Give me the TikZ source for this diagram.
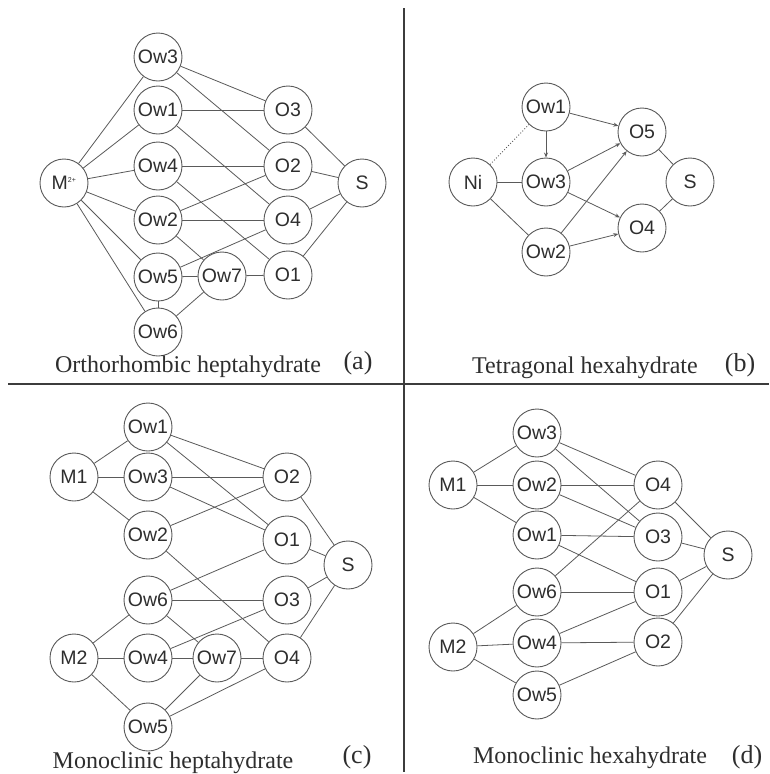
\documentclass[tikz,border=0pt]{standalone}
\usepackage{fontspec}
\setmainfont{Liberation Serif}
\setsansfont{Liberation Sans}
\usetikzlibrary{arrows.meta}
\definecolor{linegray}{HTML}{5A5A5A}
\definecolor{txtgray}{HTML}{2E2E2E}
\definecolor{divgray}{HTML}{3C3C3C}
\begin{document}
\begin{tikzpicture}[x=1pt,y=-1pt,
  nd/.style={circle,draw=linegray,line width=0.9pt,minimum size=48pt,inner sep=0pt,
    font=\sffamily\fontsize{19.5}{19.5}\selectfont,text=txtgray},
  ed/.style={draw=linegray,line width=0.8pt},
  ar/.style={ed,-{Stealth[length=5pt,width=4pt]}},
  dt/.style={draw=linegray,line width=0.9pt,dotted},
  capt/.style={font=\fontsize{24}{24}\selectfont,text=txtgray,inner sep=0pt},
  tag/.style={font=\fontsize{26}{26}\selectfont,text=txtgray,inner sep=0pt},
  divline/.style={draw=divgray,line width=1.2pt}]
\useasboundingbox (0,0) rectangle (769,774);
\fill[white] (0,0) rectangle (769,774);
% dividers
\coordinate (vtop) at (404,8);
\coordinate (vbot) at (404,772);
\coordinate (hl) at (8,384);
\coordinate (hr) at (769,384);
\draw[divline] (vtop) -- (vbot);
\draw[divline] (hl) -- (hr);

% ---------- (a) ----------
\node[nd] (aM) at (64,183) {M\textsuperscript{\fontsize{7}{7}\selectfont 2+}};
\node[nd] (aOw3) at (158,57) {Ow3};
\node[nd] (aOw1) at (158,110) {Ow1};
\node[nd] (aOw4) at (158,166) {Ow4};
\node[nd] (aOw2) at (158,220) {Ow2};
\node[nd] (aOw5) at (158,277) {Ow5};
\node[nd] (aOw6) at (158,332) {Ow6};
\node[nd] (aOw7) at (222,276) {Ow7};
\node[nd] (aO3) at (288,110) {O3};
\node[nd] (aO2) at (288,166) {O2};
\node[nd] (aO4) at (288,220) {O4};
\node[nd] (aO1) at (288,275) {O1};
\node[nd] (aS) at (362,183) {S};
\foreach \t in {aOw3,aOw1,aOw4,aOw2,aOw5,aOw6} \draw[ed] (aM) -- (\t);
\draw[ed] (aOw3) -- (aO3);
\draw[ed] (aOw3) -- (aO2);
\draw[ed] (aOw1) -- (aO3);
\draw[ed] (aOw1) -- (aO4);
\draw[ed] (aOw4) -- (aO2);
\draw[ed] (aOw4) -- (aO1);
\draw[ed] (aOw2) -- (aO2);
\draw[ed] (aOw2) -- (aO4);
\draw[ed] (aOw2) -- (aOw7);
\draw[ed] (aOw5) -- (aO4);
\draw[ed] (aOw5) -- (aOw7);
\draw[ed] (aOw5) -- (aOw6);
\draw[ed] (aOw6) -- (aOw7);
\draw[ed] (aOw7) -- (aO1);
\foreach \t in {aO3,aO2,aO4,aO1} \draw[ed] (\t) -- (aS);
\node[capt] (acap) at (188,367) {Orthorhombic heptahydrate};
\node[tag] (atag) at (358,363) {(a)};

% ---------- (b) ----------
\node[nd] (bNi) at (473,182) {Ni};
\node[nd] (bOw1) at (546,107) {Ow1};
\node[nd] (bOw3) at (546,182) {Ow3};
\node[nd] (bOw2) at (546,252) {Ow2};
\node[nd] (bO5) at (642,132) {O5};
\node[nd] (bO4) at (642,228) {O4};
\node[nd] (bS) at (690,182) {S};
\draw[dt] (bNi) -- (bOw1);
\draw[ed] (bNi) -- (bOw3);
\draw[ed] (bNi) -- (bOw2);
\draw[ar] (bOw1) -- (bOw3);
\draw[ar] (bOw1) -- (bO5);
\draw[ar] (bOw3) -- (bO5);
\draw[ar] (bOw3) -- (bO4);
\draw[ar] (bOw2) -- (bO5);
\draw[ar] (bOw2) -- (bO4);
\draw[ed] (bO5) -- (bS);
\draw[ed] (bO4) -- (bS);
\node[capt] (bcap) at (585,368) {Tetragonal hexahydrate};
\node[tag] (btag) at (740,365) {(b)};

% ---------- (c) ----------
\node[nd] (cM1) at (74,477) {M1};
\node[nd] (cM2) at (74,658) {M2};
\node[nd] (cOw1) at (148,427) {Ow1};
\node[nd] (cOw3) at (148,477) {Ow3};
\node[nd] (cOw2) at (148,535) {Ow2};
\node[nd] (cOw6) at (148,600) {Ow6};
\node[nd] (cOw4) at (148,658) {Ow4};
\node[nd] (cOw5) at (148,727) {Ow5};
\node[nd] (cOw7) at (217,658) {Ow7};
\node[nd] (cO2) at (287,477) {O2};
\node[nd] (cO1) at (287,540) {O1};
\node[nd] (cO3) at (287,600) {O3};
\node[nd] (cO4) at (287,658) {O4};
\node[nd] (cS) at (348,565) {S};
\foreach \t in {cOw1,cOw3,cOw2} \draw[ed] (cM1) -- (\t);
\foreach \t in {cOw6,cOw4,cOw5} \draw[ed] (cM2) -- (\t);
\draw[ed] (cOw1) -- (cO2);
\draw[ed] (cOw1) -- (cO1);
\draw[ed] (cOw3) -- (cO2);
\draw[ed] (cOw3) -- (cO1);
\draw[ed] (cOw2) -- (cO2);
\draw[ed] (cOw2) -- (cO4);
\draw[ed] (cOw6) -- (cO1);
\draw[ed] (cOw6) -- (cO3);
\draw[ed] (cOw6) -- (cOw7);
\draw[ed] (cOw4) -- (cO3);
\draw[ed] (cOw4) -- (cOw7);
\draw[ed] (cOw7) -- (cO4);
\draw[ed] (cOw5) -- (cOw7);
\draw[ed] (cOw5) -- (cO4);
\foreach \t in {cO2,cO1,cO3,cO4} \draw[ed] (\t) -- (cS);
\node[capt] (ccap) at (173,763) {Monoclinic heptahydrate};
\node[tag] (ctag) at (357,757) {(c)};

% ---------- (d) ----------
\node[nd] (dM1) at (453,485) {M1};
\node[nd] (dM2) at (453,647) {M2};
\node[nd] (dOw3) at (537,433) {Ow3};
\node[nd] (dOw2) at (537,485) {Ow2};
\node[nd] (dOw1) at (537,535) {Ow1};
\node[nd] (dOw6) at (537,592) {Ow6};
\node[nd] (dOw4) at (537,643) {Ow4};
\node[nd] (dOw5) at (537,695) {Ow5};
\node[nd] (dO4) at (658,485) {O4};
\node[nd] (dO3) at (658,537) {O3};
\node[nd] (dO1) at (658,592) {O1};
\node[nd] (dO2) at (658,642) {O2};
\node[nd] (dS) at (728,555) {S};
\foreach \t in {dOw3,dOw2,dOw1} \draw[ed] (dM1) -- (\t);
\foreach \t in {dOw6,dOw4,dOw5} \draw[ed] (dM2) -- (\t);
\draw[ed] (dOw3) -- (dO4);
\draw[ed] (dOw3) -- (dO3);
\draw[ed] (dOw2) -- (dO4);
\draw[ed] (dOw2) -- (dO3);
\draw[ed] (dOw1) -- (dO3);
\draw[ed] (dOw1) -- (dO1);
\draw[ed] (dOw6) -- (dO4);
\draw[ed] (dOw6) -- (dO1);
\draw[ed] (dOw4) -- (dO1);
\draw[ed] (dOw4) -- (dO2);
\draw[ed] (dOw5) -- (dO2);
\foreach \t in {dO4,dO3,dO1,dO2} \draw[ed] (\t) -- (dS);
\node[capt] (dcap) at (590,758) {Monoclinic hexahydrate};
\node[tag] (dtag) at (747,757) {(d)};
\end{tikzpicture}
\end{document}
